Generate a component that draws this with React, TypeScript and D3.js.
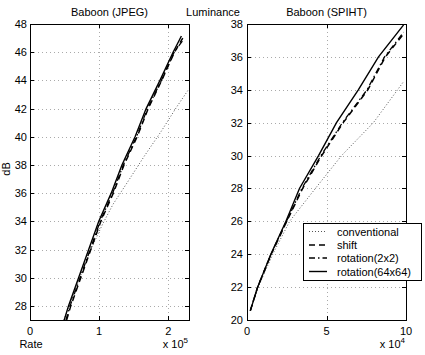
import React from "react";
import * as d3 from "d3";

// Baboon (JPEG) — rate in units of 1e5, PSNR in dB
const jpegConventional = [[0.49, 27], [0.72, 30], [0.88, 32], [1.05, 33.8], [1.2, 35.2], [1.4, 36.7], [1.65, 38.6], [1.9, 40.4], [2.12, 42.1], [2.3, 43.4]];
const jpegShift = [[0.53, 27], [0.59, 28], [0.735, 30], [0.88, 32], [1.025, 34], [1.205, 36], [1.36, 38], [1.55, 40], [1.71, 42], [1.905, 44], [2.09, 46], [2.21, 47.0]];
const jpegRot2 = [[0.52, 27], [0.58, 28], [0.725, 30], [0.87, 32], [1.015, 34], [1.195, 36], [1.35, 38], [1.54, 40], [1.7, 42], [1.9, 44], [2.085, 46], [2.22, 46.9]];
const jpegRot64 = [[0.495, 27], [0.557, 28], [0.703, 30], [0.849, 32], [0.995, 34], [1.175, 36], [1.33, 38], [1.52, 40], [1.68, 42], [1.88, 44], [2.07, 46], [2.19, 47.15]];

// Baboon (SPIHT) — rate in units of 1e4
const spihtConventional = [[0.21, 20.57], [0.7, 22], [1.62, 24], [2.68, 26], [4.3, 28], [5.95, 30], [7.95, 32], [9.85, 34.5]];
const spihtShift = [[0.21, 20.57], [0.67, 22], [1.52, 24], [2.5, 26], [3.5, 28], [4.7, 30], [6.05, 32], [7.6, 34], [8.7, 36], [9.85, 37.4]];
const spihtRot2 = [[0.21, 20.57], [0.67, 22], [1.51, 24], [2.48, 26], [3.45, 28], [4.65, 30], [6.0, 32], [7.55, 34], [8.65, 36], [9.85, 37.5]];
const spihtRot64 = [[0.21, 20.57], [0.67, 22], [1.5, 24], [2.45, 26], [3.3, 28], [4.5, 30], [5.63, 32], [7.0, 34], [8.27, 36], [9.85, 37.95]];

const legendLabels = ["conventional", "shift", "rotation(2x2)", "rotation(64x64)"];
const jpegXTicks = [0, 1, 2];
const jpegYTicks = [28, 30, 32, 34, 36, 38, 40, 42, 44, 46, 48];
const spihtXTicks = [0, 5, 10];
const spihtYTicks = [20, 22, 24, 26, 28, 30, 32, 34, 36, 38];

const styles = [
  { dash: "1,2", width: 1, color: "#555" },
  { dash: "6,4", width: 1.5, color: "#000" },
  { dash: "6,3,1.5,3", width: 1.3, color: "#000" },
  { dash: null, width: 1.4, color: "#000" },
];

const font = "'Liberation Sans', Arial, sans-serif";

type Panel = {
  id: string;
  x0: number; x1: number; y0: number; y1: number;
  xDomain: [number, number]; yDomain: [number, number];
  xTicks: number[]; yTicks: number[];
  series: number[][][];
  title: string; exp: string;
  labelGap: number;
};

const panels: Panel[] = [
  {
    id: "jpeg", x0: 30, x1: 189, y0: 24, y1: 320,
    xDomain: [0, 2.3], yDomain: [27, 48],
    xTicks: jpegXTicks, yTicks: jpegYTicks,
    series: [jpegConventional, jpegShift, jpegRot2, jpegRot64],
    title: "Baboon (JPEG)", exp: "5", labelGap: 3,
  },
  {
    id: "spiht", x0: 247, x1: 406, y0: 24, y1: 320,
    xDomain: [0, 10], yDomain: [20, 38],
    xTicks: spihtXTicks, yTicks: spihtYTicks,
    series: [spihtConventional, spihtShift, spihtRot2, spihtRot64],
    title: "Baboon (SPIHT)", exp: "4", labelGap: 4,
  },
];

function PanelView({ p }: { p: Panel }) {
  const x = d3.scaleLinear().domain(p.xDomain).range([p.x0, p.x1]);
  const y = d3.scaleLinear().domain(p.yDomain).range([p.y1, p.y0]);
  const line = d3.line<number[]>().x((d) => x(d[0])).y((d) => y(d[1]));
  const tk = 4;
  return (
    <g>
      <defs>
        <clipPath id={`clip-${p.id}`}>
          <rect x={p.x0} y={p.y0} width={p.x1 - p.x0} height={p.y1 - p.y0} />
        </clipPath>
      </defs>
      <rect x={p.x0} y={p.y0} width={p.x1 - p.x0} height={p.y1 - p.y0} fill="#fff" />
      {/* grid */}
      {p.xTicks.filter((t) => x(t) > p.x0 + 1 && x(t) < p.x1 - 1).map((t) => (
        <line key={`gx${t}`} x1={Math.round(x(t)) + 0.5} x2={Math.round(x(t)) + 0.5} y1={p.y0} y2={p.y1}
          stroke="#aaa" strokeWidth={1} strokeDasharray="1,3" />
      ))}
      {p.yTicks.filter((t) => y(t) > p.y0 + 1 && y(t) < p.y1 - 1).map((t) => (
        <line key={`gy${t}`} x1={p.x0} x2={p.x1} y1={Math.round(y(t)) + 0.5} y2={Math.round(y(t)) + 0.5}
          stroke="#aaa" strokeWidth={1} strokeDasharray="1,3" />
      ))}
      {/* series */}
      <g clipPath={`url(#clip-${p.id})`}>
        {p.series.map((s, i) => (
          <path key={i} d={line(s) ?? ""} fill="none" stroke={styles[i].color}
            strokeWidth={styles[i].width} strokeDasharray={styles[i].dash ?? undefined} />
        ))}
      </g>
      {/* box */}
      <rect x={p.x0 + 0.5} y={p.y0 + 0.5} width={p.x1 - p.x0} height={p.y1 - p.y0}
        fill="none" stroke="#000" strokeWidth={1} />
      {/* ticks */}
      {p.xTicks.map((t) => {
        const xx = Math.round(x(t)) + 0.5;
        return (
          <g key={`tx${t}`}>
            <line x1={xx} x2={xx} y1={p.y1} y2={p.y1 - tk} stroke="#000" />
            <line x1={xx} x2={xx} y1={p.y0} y2={p.y0 + tk} stroke="#000" />
            <text x={x(t)} y={p.y1 + 15} textAnchor="middle" fontSize={11} fontFamily={font}>{t}</text>
          </g>
        );
      })}
      {p.yTicks.map((t) => {
        const yy = Math.round(y(t)) + 0.5;
        return (
          <g key={`ty${t}`}>
            <line x1={p.x0} x2={p.x0 + tk} y1={yy} y2={yy} stroke="#000" />
            <line x1={p.x1} x2={p.x1 - tk} y1={yy} y2={yy} stroke="#000" />
            <text x={p.x0 - p.labelGap} y={y(t) + 4} textAnchor="end" fontSize={11} fontFamily={font}>{t}</text>
          </g>
        );
      })}
      <text x={(p.x0 + p.x1) / 2} y={16} textAnchor="middle" fontSize={11} fontFamily={font}>{p.title}</text>
      <text x={p.x1 - 1} y={348} textAnchor="end" fontSize={11} fontFamily={font}>
        x 10<tspan dy={-5} fontSize={8}>{p.exp}</tspan>
      </text>
    </g>
  );
}

export default function App() {
  const lx0 = 303, ly0 = 223, lw = 118, lh = 57;
  const rowY = [231.5, 245, 258, 271.5];
  return (
    <svg width={425} height={355} style={{ position: "absolute", left: 0, top: 0, background: "#fff" }}>
      <rect width={425} height={355} fill="#fff" />
      {panels.map((p) => <PanelView key={p.id} p={p} />)}
      <text x={213} y={16} textAnchor="middle" fontSize={11} fontFamily={font}>Luminance</text>
      <text x={31} y={348} textAnchor="middle" fontSize={11} fontFamily={font}>Rate</text>
      <text transform="translate(9.5,169) rotate(-90)" textAnchor="middle" fontSize={11} fontFamily={font}>dB</text>
      {/* legend */}
      <rect x={lx0 + 0.5} y={ly0 + 0.5} width={lw} height={lh} fill="#fff" stroke="#000" />
      {legendLabels.map((name, i) => (
        <g key={name}>
          <line x1={309} x2={327} y1={rowY[i]} y2={rowY[i]} stroke={styles[i].color}
            strokeWidth={styles[i].width} strokeDasharray={styles[i].dash ?? undefined} />
          <text x={337} y={rowY[i] + 4} fontSize={11} fontFamily={font}>{name}</text>
        </g>
      ))}
    </svg>
  );
}
